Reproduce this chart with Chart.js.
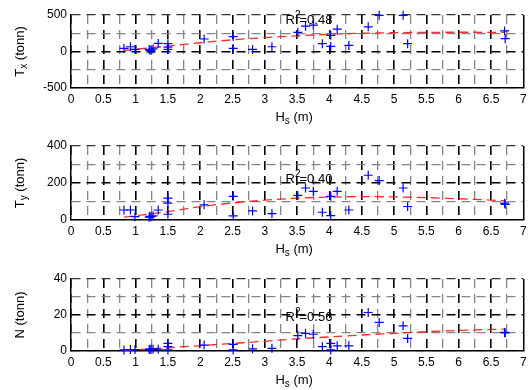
<!DOCTYPE html>
<html>
<head>
<meta charset="utf-8">
<script src="https://cdn.jsdelivr.net/npm/chart.js@4.4.0/dist/chart.umd.min.js"></script>
<style>
  html, body { margin: 0; padding: 0; background: #fff; }
  canvas { display: block; }
</style>
</head>
<body>
<canvas id="chartTx" width="529" height="130"></canvas>
<canvas id="chartTy" width="529" height="130"></canvas>
<canvas id="chartN" width="529" height="130"></canvas>
<script>
// --- DATA ---
const hs = [0.82, 0.92, 0.99, 1.21, 1.22, 1.24, 1.27, 1.35, 1.5, 1.5, 1.5, 2.06, 2.51, 2.51, 2.81,
            3.11, 3.51, 3.63, 3.75, 3.89, 4.02, 4.02, 4.12, 4.3, 4.6, 4.77, 5.14, 5.21, 6.71, 6.72];
const tx = [42, 65, 28, 28, 20, 18, 35, 111, 107, 30, 60, 171, 204, 42, 28,
            65, 262, 347, 361, 107, 69, 222, 306, 83, 338, 495, 495, 107, 282, 176];
const ty = [54, 54, 18, 15, 20, 18, 22, 54, 118, 31, 91, 82, 128, 22, 49,
            35, 133, 173, 155, 42, 24, 128, 155, 54, 242, 213, 173, 73, 91, 85];
const nForce = [0.6, 0.8, 0.8, 0.8, 1, 1, 1, 1, 4.2, 0.6, 2.4, 3.3, 3.7, 0.6, 1.2,
                1.5, 8.5, 9.8, 9.3, 2.4, 0.6, 4.2, 2.9, 2.9, 21.4, 15.9, 14, 7, 10.3, 10];

// red dashed trend curves, sampled from the figure
const fitHs = [0.82, 1.5, 2, 2.5, 3, 3.5, 4, 4.5, 5, 5.5, 6, 6.72];
const fitTx = [15, 75, 120, 160, 190, 215, 235, 250, 258, 262, 264, 262];
const fitTy = [15, 45, 72, 92, 107, 118, 124, 126, 125, 121, 115, 104];
const fitN = [0.3, 1.8, 3, 4.2, 5.4, 6.8, 7.8, 8.9, 9.8, 10.7, 11.4, 12.2];

const rSquared = ['0.48', '0.40', '0.56'];

const FONT = "'Liberation Sans', Arial, Helvetica, sans-serif";

// --- TEXT WITH SUB/SUPERSCRIPTS ---
function partSize(p, size) {
    return (p.sub || p.sup) ? Math.round(size * 0.75) : size;
}

function drawRich(ctx, parts, x, y, size, align) {
    let w = 0;
    parts.forEach(p => {
        ctx.font = partSize(p, size) + 'px ' + FONT;
        w += ctx.measureText(p.t).width;
    });
    let cx = align === 'center' ? x - w / 2 : x;
    parts.forEach(p => {
        ctx.font = partSize(p, size) + 'px ' + FONT;
        const dy = p.sub ? size * 0.32 : (p.sup ? -size * 0.5 : 0);
        ctx.fillText(p.t, cx, y + dy);
        cx += ctx.measureText(p.t).width - (p.sup ? 1 : 0);
    });
}

const matlabText = {
    id: 'matlabText',
    afterDraw(chart, args, opts) {
        const ctx = chart.ctx;
        const area = chart.chartArea;
        ctx.save();
        ctx.fillStyle = '#000';
        ctx.textAlign = 'left';

        // y axis title (rotated)
        ctx.textBaseline = 'middle';
        ctx.save();
        ctx.translate(20, (area.top + area.bottom) / 2);
        ctx.rotate(-Math.PI / 2);
        drawRich(ctx, opts.yTitle, 0, 0, 13, 'center');
        ctx.restore();

        // x axis title
        drawRich(ctx, [{ t: 'H' }, { t: 's', sub: true }, { t: ' (m)' }],
            (area.left + area.right) / 2 - 3, area.bottom + 29, 13, 'center');

        // R^2 annotation
        ctx.textBaseline = 'alphabetic';
        const px = chart.scales.x.getPixelForValue(opts.rsqX);
        const py = chart.scales.y.getPixelForValue(opts.rsqY);
        drawRich(ctx, [{ t: 'R' }, { t: '2', sup: true }, { t: '=' + opts.rsq }], px, py, 13, 'left');
        ctx.restore();
    }
};

function makeChart(id, ys, fitYs, cfg) {
    const points = hs.map((h, i) => ({ x: h, y: ys[i] }));
    const trend = fitHs.map((h, i) => ({ x: h, y: fitYs[i] }));
    const isMajorX = v => Math.round(v * 4) % 2 === 0;

    new Chart(document.getElementById(id), {
        type: 'scatter',
        data: {
            datasets: [
                {
                    data: points,
                    pointStyle: 'cross',
                    pointRadius: 4.5,
                    borderColor: '#0000ff',
                    backgroundColor: '#0000ff',
                    borderWidth: 1.2,
                    clip: false
                },
                {
                    type: 'line',
                    data: trend,
                    showLine: true,
                    pointRadius: 0,
                    borderColor: 'rgba(255,20,20,0.9)',
                    borderWidth: 1.3,
                    borderDash: [9, 5],
                    cubicInterpolationMode: 'monotone',
                    fill: false
                }
            ]
        },
        options: {
            responsive: false,
            animation: false,
            events: [],
            layout: { padding: { top: cfg.padTop, right: 3, left: 0, bottom: 0 } },
            plugins: {
                legend: { display: false },
                tooltip: { enabled: false },
                matlabText: {
                    yTitle: cfg.yTitle,
                    rsq: cfg.rsq,
                    rsqX: 3.32,
                    rsqY: cfg.rsqY
                }
            },
            scales: {
                x: {
                    type: 'linear',
                    min: 0,
                    max: 7,
                    afterFit: s => { s.height = cfg.xAxisH; s.paddingLeft = 0; s.paddingRight = 0; },
                    ticks: {
                        stepSize: 0.25,
                        autoSkip: false,
                        maxRotation: 0,
                        padding: 4,
                        color: '#000',
                        font: { family: FONT, size: 12 },
                        callback: v => isMajorX(v) ? String(v) : ''
                    },
                    grid: {
                        drawTicks: false,
                        color: c => (c.tick && (c.tick.value === 7 || isMajorX(c.tick.value))) ? '#000' : '#858585',
                        lineWidth: c => (c.tick && c.tick.value === 7) ? 1.5 : (c.tick && isMajorX(c.tick.value) ? 1.6 : 1.3)
                    },
                    border: {
                        color: '#000',
                        width: 1.5,
                        dash: c => (c.tick && c.tick.value === 7) ? [] : [9, 6]
                    }
                },
                y: {
                    type: 'linear',
                    min: cfg.yMin,
                    max: cfg.yMax,
                    afterFit: s => { s.width = 71; s.paddingTop = 0; s.paddingBottom = 0; },
                    ticks: {
                        stepSize: cfg.yStep,
                        autoSkip: false,
                        padding: 4,
                        color: '#000',
                        font: { family: FONT, size: 12 },
                        callback: v => ((v - cfg.yMin) % cfg.yLabelStep === 0) ? String(v) : ''
                    },
                    grid: {
                        drawTicks: false,
                        color: c => {
                            if (!c.tick) return '#858585';
                            if (c.tick.value === cfg.yMid) return '#000';
                            if (c.tick.value === cfg.yMax) return '#333';
                            return '#858585';
                        },
                        lineWidth: c => (c.tick && c.tick.value === cfg.yMid) ? 1.6 : 1.3
                    },
                    border: { color: '#000', width: 1.5, dash: [9, 6] }
                }
            }
        },
        plugins: [matlabText]
    });
}

makeChart('chartTx', tx, fitTx, {
    yMin: -500, yMax: 500, yStep: 250, yLabelStep: 500, yMid: 0,
    padTop: 15, xAxisH: 42,
    yTitle: [{ t: 'T' }, { t: 'x', sub: true }, { t: ' (tonn)' }],
    rsq: rSquared[0], rsqY: 375
});
makeChart('chartTy', ty, fitTy, {
    yMin: 0, yMax: 400, yStep: 100, yLabelStep: 200, yMid: 200,
    padTop: 16, xAxisH: 40,
    yTitle: [{ t: 'T' }, { t: 'y', sub: true }, { t: ' (tonn)' }],
    rsq: rSquared[1], rsqY: 200
});
makeChart('chartN', nForce, fitN, {
    yMin: 0, yMax: 40, yStep: 10, yLabelStep: 20, yMid: 20,
    padTop: 19, xAxisH: 39,
    yTitle: [{ t: 'N (tonn)' }],
    rsq: rSquared[2], rsqY: 16.5
});
</script>
</body>
</html>
